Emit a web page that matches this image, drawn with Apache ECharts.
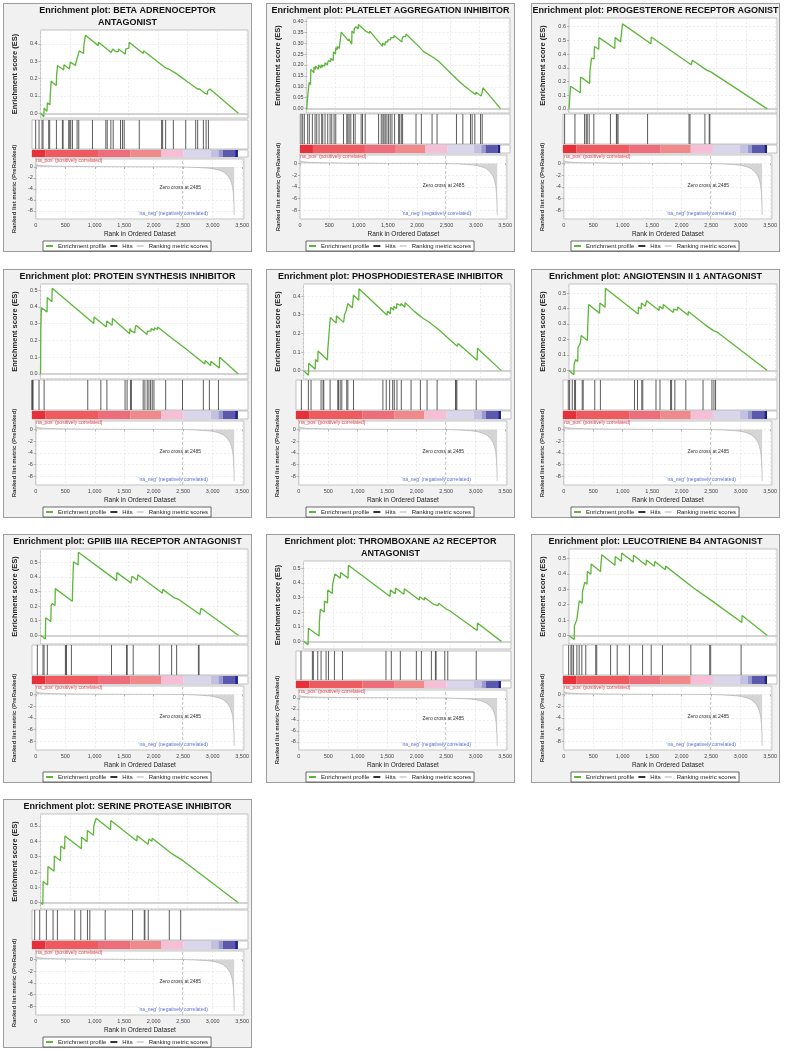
<!DOCTYPE html>
<html><head><meta charset="utf-8">
<script src="https://cdn.jsdelivr.net/npm/echarts@6/dist/echarts.min.js"></script>
<style>
html,body{margin:0;padding:0;background:#fff;width:786px;height:1050px;overflow:hidden;}
.panel{position:absolute;width:249px;height:249px;box-sizing:border-box;border:1px solid #9c9c9c;background:#f1f1f1;}
.chart{position:absolute;left:-1px;top:-1px;width:249px;height:249px;}
</style></head><body>
<script>
// ---------- DATA ----------
const panelTitles = [
  'Enrichment plot: BETA ADRENOCEPTOR\nANTAGONIST',
  'Enrichment plot: PLATELET AGGREGATION INHIBITOR',
  'Enrichment plot: PROGESTERONE RECEPTOR AGONIST',
  'Enrichment plot: PROTEIN SYNTHESIS INHIBITOR',
  'Enrichment plot: PHOSPHODIESTERASE INHIBITOR',
  'Enrichment plot: ANGIOTENSIN II 1 ANTAGONIST',
  'Enrichment plot: GPIIB IIIA RECEPTOR ANTAGONIST',
  'Enrichment plot: THROMBOXANE A2 RECEPTOR\nANTAGONIST',
  'Enrichment plot: LEUCOTRIENE B4 ANTAGONIST',
  'Enrichment plot: SERINE PROTEASE INHIBITOR'
];
const xTickLabels = ['0','500','1,000','1,500','2,000','2,500','3,000','3,500'];

// ranked list metric (shared)
const metricRanks = [0, 50, 150, 400, 800, 1500, 2000, 2485, 2700, 2900, 3000, 3100, 3180, 3240, 3290, 3320, 3340, 3352, 3360, 3365];
const metricValues = [0.45, 0.3, 0.2, 0.12, 0.07, 0.03, 0.015, 0, -0.08, -0.2, -0.32, -0.55, -0.9, -1.4, -2.1, -2.9, -3.8, -5.0, -6.6, -8.8];
const zeroCross = 2485;

// colour bar band edges (rank)
const bandEdges = [0, 218, 1092, 1611, 2108, 2473, 2921, 3047, 3118, 3320, 3365];

// hits (rank positions) and running enrichment score vertices [rank, ES]
const hitsBeta = [60,115,164,180,273,289,399,497,508,600,617,633,661,737,764,988,1207,1229,1289,1327,1447,1480,1507,1753,2118,2135,2184,2310,2512,2675,2708,2801,2845,2883];
const esBeta = [[0,0],[55,-0.02],[60,0.03],[110,0.012],[115,0.06],[160,0.05],[164,0.1],[175,0.095],[180,0.185],[268,0.16],[273,0.22],[285,0.215],[289,0.275],[394,0.25],[399,0.28],[492,0.255],[497,0.27],[503,0.268],[508,0.295],[595,0.275],[600,0.29],[612,0.285],[617,0.31],[628,0.305],[633,0.33],[656,0.325],[661,0.36],[732,0.345],[737,0.39],[760,0.385],[764,0.45],[983,0.39],[988,0.41],[1202,0.35],[1207,0.36],[1224,0.355],[1229,0.37],[1284,0.355],[1289,0.365],[1322,0.355],[1327,0.37],[1442,0.34],[1447,0.37],[1475,0.365],[1480,0.38],[1502,0.375],[1507,0.41],[1748,0.345],[1753,0.36],[2113,0.265],[2118,0.27],[2130,0.265],[2135,0.27],[2179,0.255],[2184,0.26],[2305,0.23],[2310,0.235],[2507,0.18],[2512,0.185],[2670,0.14],[2675,0.145],[2703,0.135],[2708,0.14],[2796,0.115],[2801,0.12],[2840,0.11],[2845,0.13],[2878,0.125],[2883,0.14],[3365,0]];

const hitsPlatelet = [17,45,73,129,157,208,253,281,320,365,382,421,466,506,534,573,601,731,787,804,826,854,899,927,1028,1051,1096,1321,1366,1394,1411,1433,1461,1489,1517,1546,1590,1658,1675,1703,1725,1950,2040,2220,2304,2630,2737,2866,2894,2939,3035,3063];
const esPlatelet = [[0,-0.005],[17,-0.01],[20,0.06],[40,0.11],[45,0.12],[68,0.11],[73,0.18],[125,0.165],[129,0.19],[153,0.18],[157,0.195],[204,0.18],[208,0.2],[249,0.185],[253,0.2],[277,0.19],[281,0.2],[316,0.195],[320,0.21],[361,0.2],[365,0.21],[378,0.21],[382,0.22],[417,0.215],[421,0.23],[462,0.22],[466,0.26],[502,0.25],[506,0.28],[530,0.27],[534,0.285],[569,0.275],[573,0.29],[597,0.285],[601,0.35],[727,0.31],[731,0.32],[783,0.295],[787,0.355],[822,0.345],[826,0.365],[850,0.36],[854,0.375],[895,0.365],[899,0.385],[923,0.378],[927,0.38],[1024,0.355],[1028,0.36],[1047,0.355],[1051,0.36],[1092,0.345],[1096,0.355],[1317,0.285],[1321,0.3],[1362,0.29],[1366,0.305],[1390,0.3],[1394,0.31],[1407,0.305],[1411,0.315],[1429,0.31],[1433,0.32],[1457,0.315],[1461,0.325],[1485,0.32],[1489,0.33],[1513,0.325],[1517,0.335],[1542,0.33],[1546,0.34],[1654,0.305],[1658,0.32],[1671,0.315],[1675,0.33],[1699,0.325],[1703,0.335],[1721,0.33],[1725,0.342],[1946,0.285],[1950,0.29],[2036,0.26],[2040,0.265],[2216,0.232],[2220,0.238],[2300,0.215],[2304,0.22],[2626,0.13],[2630,0.135],[2733,0.105],[2737,0.11],[2862,0.078],[2866,0.083],[2890,0.075],[2894,0.08],[2935,0.065],[2939,0.075],[3031,0.058],[3035,0.065],[3059,0.06],[3063,0.095],[3365,0]];

const hitsProgesterone = [27,197,356,383,399,432,509,782,881,892,908,1395,2079,2095,2341,2412,2423];
const esProgesterone = [[0,0],[22,-0.005],[27,0.165],[192,0.118],[197,0.232],[351,0.186],[356,0.28],[378,0.275],[383,0.37],[394,0.365],[399,0.375],[427,0.365],[432,0.455],[504,0.435],[509,0.52],[777,0.44],[782,0.52],[876,0.49],[881,0.515],[887,0.513],[892,0.555],[903,0.55],[908,0.62],[1390,0.475],[1395,0.525],[2074,0.322],[2079,0.33],[2090,0.327],[2095,0.355],[2336,0.283],[2341,0.29],[2407,0.27],[2412,0.275],[2418,0.273],[2423,0.28],[3365,0]];

const hitsProtein = [0,5,11,16,115,198,911,1125,1224,1521,1554,1609,1625,1817,1845,1883,1911,1938,1965,1993,2185,2460,2800,2899,3047];
const esProtein = [[0,0],[5,0.27],[11,0.35],[16,0.395],[110,0.37],[115,0.455],[193,0.43],[198,0.51],[906,0.3],[911,0.34],[1120,0.28],[1125,0.315],[1219,0.29],[1224,0.33],[1516,0.24],[1521,0.27],[1549,0.255],[1554,0.26],[1604,0.245],[1609,0.27],[1620,0.265],[1625,0.29],[1812,0.235],[1817,0.255],[1840,0.245],[1845,0.265],[1878,0.255],[1883,0.27],[1906,0.26],[1911,0.27],[1933,0.26],[1938,0.275],[1960,0.265],[1965,0.27],[1988,0.265],[1993,0.28],[2180,0.228],[2185,0.235],[2455,0.155],[2460,0.158],[2795,0.06],[2800,0.08],[2894,0.05],[2899,0.075],[3042,0.035],[3047,0.1],[3365,0]];

const hitsPhospho = [88,203,247,412,445,456,560,686,697,725,752,834,851,944,1427,1482,1537,1587,1614,1658,1729,1889,2042,2152,2317,2619,2630,2641,2959];
const esPhospho = [[0,0],[83,-0.025],[88,0.04],[198,0.007],[203,0.06],[242,0.048],[247,0.105],[407,0.057],[412,0.11],[440,0.102],[445,0.245],[451,0.243],[456,0.285],[555,0.255],[560,0.295],[681,0.259],[686,0.27],[692,0.268],[697,0.3],[720,0.293],[725,0.32],[747,0.313],[752,0.36],[829,0.337],[834,0.35],[846,0.346],[851,0.405],[939,0.378],[944,0.44],[1422,0.297],[1427,0.32],[1477,0.305],[1482,0.34],[1532,0.325],[1537,0.345],[1582,0.332],[1587,0.36],[1609,0.353],[1614,0.36],[1653,0.348],[1658,0.36],[1724,0.34],[1729,0.365],[1884,0.318],[1889,0.325],[2037,0.28],[2042,0.29],[2147,0.258],[2152,0.265],[2312,0.217],[2317,0.22],[2614,0.131],[2619,0.138],[2625,0.136],[2630,0.145],[2636,0.143],[2641,0.15],[2954,0.056],[2959,0.12],[3365,0]];

const hitsAngiotensin = [87,109,153,191,207,317,333,524,617,1179,1229,1300,1316,1534,1600,1775,1791,1845,2026,2310,2457,2490,2517];
const esAngiotensin = [[0,0],[82,-0.028],[87,0.04],[104,0.035],[109,0.07],[148,0.058],[153,0.148],[186,0.138],[191,0.175],[202,0.172],[207,0.225],[312,0.193],[317,0.27],[328,0.267],[333,0.425],[519,0.37],[524,0.435],[612,0.408],[617,0.53],[1174,0.365],[1179,0.41],[1224,0.397],[1229,0.435],[1295,0.415],[1300,0.425],[1311,0.422],[1316,0.45],[1529,0.387],[1534,0.415],[1595,0.397],[1600,0.425],[1770,0.374],[1775,0.395],[1786,0.392],[1791,0.405],[1840,0.39],[1845,0.41],[2021,0.357],[2026,0.38],[2305,0.296],[2310,0.3],[2452,0.257],[2457,0.26],[2485,0.252],[2490,0.255],[2512,0.248],[2517,0.252],[3365,0]];

const hitsGpiib = [87,180,197,251,546,557,562,644,1299,1545,1556,1654,2080,2282,2364,2719,2730];
const esGpiib = [[0,0],[82,-0.025],[87,0.12],[175,0.094],[180,0.2],[192,0.196],[197,0.218],[246,0.204],[251,0.32],[541,0.233],[546,0.33],[552,0.328],[557,0.46],[562,0.505],[639,0.482],[644,0.57],[1294,0.375],[1299,0.43],[1540,0.358],[1545,0.38],[1551,0.378],[1556,0.405],[1649,0.377],[1654,0.415],[2075,0.289],[2080,0.315],[2277,0.256],[2282,0.267],[2359,0.244],[2364,0.248],[2714,0.143],[2719,0.16],[2725,0.158],[2730,0.185],[3365,0]];

const hitsThromboxane = [82,269,285,357,412,494,533,631,763,1477,1565,1713,1976,2059,2223,2289,2300,2443,2492,2959];
const esThromboxane = [[0,0],[77,-0.022],[82,0.09],[264,0.037],[269,0.125],[280,0.122],[285,0.22],[352,0.2],[357,0.276],[407,0.262],[412,0.35],[489,0.327],[494,0.39],[528,0.38],[533,0.46],[626,0.432],[631,0.47],[758,0.432],[763,0.52],[1472,0.307],[1477,0.35],[1560,0.325],[1565,0.365],[1708,0.322],[1713,0.36],[1971,0.283],[1976,0.305],[2054,0.282],[2059,0.3],[2218,0.252],[2223,0.262],[2284,0.244],[2289,0.25],[2295,0.248],[2300,0.26],[2438,0.218],[2443,0.222],[2487,0.209],[2492,0.213],[2954,0.074],[2959,0.125],[3365,0]];

const hitsLeucotriene = [93,131,147,174,229,267,311,376,540,556,785,894,1095,1313,1455,1640,2109,2420,2436,2938];
const esLeucotriene = [[0,0],[88,-0.026],[93,0.065],[126,0.055],[131,0.1],[142,0.097],[147,0.145],[169,0.138],[174,0.225],[224,0.21],[229,0.285],[262,0.275],[267,0.345],[306,0.333],[311,0.415],[371,0.397],[376,0.463],[535,0.415],[540,0.45],[551,0.447],[556,0.523],[780,0.456],[785,0.513],[889,0.482],[894,0.535],[1090,0.476],[1095,0.52],[1308,0.456],[1313,0.49],[1450,0.449],[1455,0.48],[1635,0.426],[1640,0.45],[2104,0.311],[2109,0.32],[2415,0.228],[2420,0.232],[2431,0.229],[2436,0.233],[2933,0.084],[2938,0.13],[3365,0]];

const hitsSerine = [44,126,235,344,415,699,797,906,945,1196,1643,1835,1845,1900,2244,2430];
const esSerine = [[0,0],[39,-0.012],[44,0.138],[121,0.116],[126,0.236],[230,0.205],[235,0.305],[339,0.274],[344,0.37],[410,0.35],[415,0.435],[694,0.352],[699,0.426],[792,0.398],[797,0.47],[901,0.439],[906,0.5],[940,0.49],[945,0.55],[1191,0.476],[1196,0.535],[1638,0.402],[1643,0.437],[1830,0.381],[1835,0.395],[1840,0.394],[1845,0.415],[1895,0.4],[1900,0.42],[2239,0.318],[2244,0.328],[2425,0.274],[2430,0.278],[3365,0]];

// ---------- STYLE / LAYOUT ----------
const bandColors = ['#e8303a','#ee5a5e','#ee6d7b','#f08a8a','#f6bfd6','#d9d6ec','#c4c0e2','#9a98d0','#5a59ad','#1e1d8c'];
const FONT = 'Liberation Sans, Arial, sans-serif';
const xMax = 3530;
const colX = [3, 266, 531];
const rowY = [3, 269, 534, 799];

const panels = [
  {es: esBeta, hits: hitsBeta, yMin: -0.027, yMax: 0.48, split: 6, dec: 1, two: true, left: 29, right: 4},
  {es: esPlatelet, hits: hitsPlatelet, yMin: -0.02, yMax: 0.415, split: 8, dec: 2, two: false, left: 34, right: 5},
  {es: esProgesterone, hits: hitsProgesterone, yMin: -0.03, yMax: 0.663, split: 6, dec: 1, two: false, left: 32, right: 3},
  {es: esProtein, hits: hitsProtein, yMin: -0.03, yMax: 0.536, split: 6, dec: 1, two: false, left: 29, right: 4},
  {es: esPhospho, hits: hitsPhospho, yMin: -0.045, yMax: 0.465, split: 6, dec: 1, two: false, left: 30, right: 4},
  {es: esAngiotensin, hits: hitsAngiotensin, yMin: -0.055, yMax: 0.558, split: 6, dec: 1, two: false, left: 32, right: 3},
  {es: esGpiib, hits: hitsGpiib, yMin: -0.06, yMax: 0.592, split: 6, dec: 1, two: false, left: 29, right: 4},
  {es: esThromboxane, hits: hitsThromboxane, yMin: -0.052, yMax: 0.549, split: 6, dec: 1, two: true, left: 30, right: 4},
  {es: esLeucotriene, hits: hitsLeucotriene, yMin: -0.055, yMax: 0.561, split: 6, dec: 1, two: false, left: 32, right: 3},
  {es: esSerine, hits: hitsSerine, yMin: -0.041, yMax: 0.578, split: 6, dec: 1, two: false, left: 29, right: 4}
];

const metricData = metricRanks.map((r, i) => [r, metricValues[i]]);
const bandData = bandEdges.slice(0, -1).map((s, i) => [s, bandEdges[i + 1], i]);

function buildOption(p, idx) {
  const L = p.two
    ? {es: [27, 88], hits: [117, 29], bar: [147, 7], met: [156, 60]}
    : {es: [15, 95], hits: [111, 30], bar: [142, 8], met: [152, 64]};
  const grid = (g) => ({left: p.left, right: p.right, top: g[0], height: g[1], show: true,
    backgroundColor: '#ffffff', borderColor: '#b4b4b4', borderWidth: 0.8});
  const split = {show: true, lineStyle: {color: '#e2e2e2', type: [2, 2], width: 0.6}};
  const xAx = (gi, labels, grid) => ({
    type: 'value', gridIndex: gi, min: 0, max: xMax, interval: 500,
    axisLine: {show: false},
    axisTick: {show: labels, length: 2, lineStyle: {color: '#888', width: 0.6}},
    axisLabel: {show: labels, fontSize: 5.5, color: '#444', margin: 3, fontFamily: FONT,
      showMaxLabel: false, formatter: v => xTickLabels[Math.round(v / 500)] || ''},
    splitLine: grid ? split : {show: false},
    name: labels ? 'Rank in Ordered Dataset' : '', nameLocation: 'middle', nameGap: 12,
    nameTextStyle: {fontSize: 6.5, color: '#222', fontFamily: FONT}
  });
  const fmt = v => (Math.abs(v) < 1e-9 ? 0 : v).toFixed(p.dec);
  return {
    animation: false,
    textStyle: {fontFamily: FONT},
    title: {text: panelTitles[idx], left: 'center', top: 2, padding: 0,
      textStyle: {fontSize: 9, fontWeight: 'bold', color: '#111', lineHeight: 12, fontFamily: FONT}},
    legend: {
      left: 40, top: 238, orient: 'horizontal', selectedMode: false,
      backgroundColor: '#fff', borderColor: '#444', borderWidth: 0.8, padding: [2, 3],
      itemWidth: 7, itemHeight: 2, itemGap: 4, icon: 'rect',
      textStyle: {fontSize: 6, color: '#222', fontFamily: FONT},
      data: [
        {name: 'Enrichment profile', itemStyle: {color: '#5cb738'}, lineStyle: {color: '#5cb738', width: 2}},
        {name: 'Hits', itemStyle: {color: '#333'}},
        {name: 'Ranking metric scores', itemStyle: {color: '#d6d6d6'}, lineStyle: {color: '#d6d6d6', width: 2}}
      ]
    },
    grid: [grid(L.es), grid(L.hits), grid(L.bar), grid(L.met)],
    xAxis: [xAx(0, false, true), xAx(1, false, false), xAx(2, false, false), xAx(3, true, true)],
    yAxis: [
      {type: 'value', gridIndex: 0, min: p.yMin, max: p.yMax, splitNumber: p.split,
        axisLine: {show: false}, axisTick: {show: true, length: 2, lineStyle: {color: '#888', width: 0.6}},
        axisLabel: {fontSize: 5.5, color: '#444', margin: 3, showMinLabel: false, showMaxLabel: false, formatter: fmt, fontFamily: FONT},
        splitLine: split,
        name: 'Enrichment score (ES)', nameLocation: 'middle', nameGap: p.left - 10,
        nameTextStyle: {fontSize: 7.5, fontWeight: 'bold', color: '#222', fontFamily: FONT}},
      {type: 'value', gridIndex: 1, min: 0, max: 1, show: false},
      {type: 'value', gridIndex: 2, min: 0, max: 1, show: false},
      {type: 'value', gridIndex: 3, min: -9.5, max: 1.45, splitNumber: 5,
        axisLine: {show: false}, axisTick: {show: true, length: 2, lineStyle: {color: '#888', width: 0.6}},
        axisLabel: {fontSize: 5.5, color: '#444', margin: 3, showMinLabel: false, showMaxLabel: false, fontFamily: FONT},
        splitLine: split,
        name: 'Ranked list metric (PreRanked)', nameLocation: 'middle', nameGap: 15,
        nameTextStyle: {fontSize: 6, fontWeight: 'bold', color: '#333', fontFamily: FONT}}
    ],
    series: [
      {type: 'line', name: 'Enrichment profile', xAxisIndex: 0, yAxisIndex: 0, data: p.es,
        symbol: 'none', showSymbol: false, z: 5,
        lineStyle: {color: '#5cb738', width: 1.3}, itemStyle: {color: '#5cb738'},
        markLine: {silent: true, symbol: 'none', label: {show: false}, z: 1,
          lineStyle: {color: '#c6c6c6', width: 1.6, type: 'solid'}, data: [{yAxis: 0}]}},
      {type: 'custom', name: 'Hits', xAxisIndex: 1, yAxisIndex: 1, data: p.hits.map(h => [h]),
        itemStyle: {color: '#333'},
        renderItem: (params, api) => {
          const top = api.coord([api.value(0), 1]);
          const bot = api.coord([api.value(0), 0]);
          return {type: 'line', shape: {x1: top[0], y1: top[1], x2: bot[0], y2: bot[1]},
            style: {stroke: '#4a4a4a', lineWidth: 0.9}};
        }},
      {type: 'custom', name: 'Ranked list colors', xAxisIndex: 2, yAxisIndex: 2, data: bandData, silent: true,
        renderItem: (params, api) => {
          const a = api.coord([api.value(0), 1]);
          const b = api.coord([api.value(1), 0]);
          return {type: 'rect', shape: {x: a[0], y: a[1], width: b[0] - a[0], height: b[1] - a[1]},
            style: {fill: bandColors[api.value(2)]}};
        }},
      {type: 'line', name: 'Ranking metric scores', xAxisIndex: 3, yAxisIndex: 3, data: metricData,
        symbol: 'none', showSymbol: false,
        lineStyle: {color: '#a9a9a9', width: 0.6}, itemStyle: {color: '#c3c3c3'},
        areaStyle: {color: '#c3c3c3', origin: 0},
        markLine: {silent: true, symbol: 'none', label: {show: false},
          lineStyle: {color: '#b8b8b8', width: 0.7, type: [3, 2]}, data: [{xAxis: zeroCross}]},
        markPoint: {silent: true, symbol: 'circle', symbolSize: 1, itemStyle: {color: 'rgba(0,0,0,0)'},
          label: {show: true, position: 'inside', fontSize: 5, fontFamily: FONT},
          data: [
            {coord: [560, 1.15], label: {formatter: "'na_pos' (positively correlated)", color: '#e8454a'}},
            {coord: [2450, -3.8], label: {formatter: 'Zero cross at ' + zeroCross, color: '#333'}},
            {coord: [2330, -8.5], label: {formatter: "'na_neg' (negatively correlated)", color: '#5d6fd4'}}
          ]}}
    ]
  };
}

panels.forEach((p, i) => {
  const panel = document.createElement('div');
  panel.className = 'panel';
  panel.style.left = colX[i % 3] + 'px';
  panel.style.top = rowY[Math.floor(i / 3)] + 'px';
  const c = document.createElement('div');
  c.className = 'chart';
  panel.appendChild(c);
  document.body.appendChild(panel);
  const chart = echarts.init(c, null, {renderer: 'canvas'});
  chart.setOption(buildOption(p, i));
});
</script>
</body></html>
